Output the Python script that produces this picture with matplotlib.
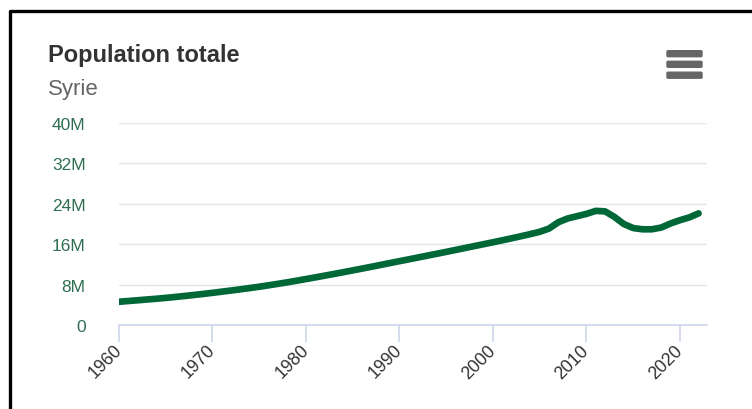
import numpy as np
import matplotlib.pyplot as plt
from matplotlib.lines import Line2D
from matplotlib.patches import FancyBboxPatch
from matplotlib.ticker import FuncFormatter

# données : population totale, Syrie (millions)
years = list(range(1960, 2023))
population_m = [4.60, 4.75, 4.90, 5.05, 5.20, 5.37, 5.55, 5.74, 5.94, 6.15,
                6.37, 6.60, 6.83, 7.07, 7.32, 7.58, 7.86, 8.15, 8.45, 8.77,
                9.10, 9.43, 9.77, 10.11, 10.46, 10.81, 11.17, 11.53, 11.90, 12.27,
                12.64, 13.00, 13.37, 13.74, 14.11, 14.48, 14.86, 15.24, 15.62, 16.00,
                16.38, 16.77, 17.17, 17.58, 18.00, 18.45, 19.10, 20.35, 21.10, 21.55,
                22.00, 22.60, 22.50, 21.40, 20.00, 19.20, 18.95, 18.95, 19.30, 20.10,
                20.75, 21.30, 22.10]
y_ticks = [0, 8, 16, 24, 32, 40]
x_ticks = [1960, 1970, 1980, 1990, 2000, 2010, 2020]
title = "Population totale"
subtitle = "Syrie"

W, H = 752, 410
fig = plt.figure(figsize=(W / 100, H / 100), dpi=100)
plt.rcParams['font.family'] = ['Liberation Sans', 'DejaVu Sans']

ax = fig.add_axes([119 / W, 1 - 326 / H, (707 - 119) / W, (326 - 124) / H])

ax.plot(years, population_m, color='#006837', linewidth=4.8,
        solid_capstyle='round', solid_joinstyle='round', zorder=3)

ax.set_xlim(1960, 2022.9)
ax.set_ylim(0, 40)
ax.set_yticks(y_ticks)
ax.set_xticks(x_ticks)
ax.yaxis.set_major_formatter(FuncFormatter(lambda v, p: '0' if v == 0 else f'{int(v)}M'))

# grille horizontale
ax.grid(axis='y', color='#e6e6e6', linewidth=1)
ax.set_axisbelow(True)
for s in ['top', 'right', 'left']:
    ax.spines[s].set_visible(False)
ax.spines['bottom'].set_color('#ccd6eb')
ax.spines['bottom'].set_linewidth(1.2)

ax.tick_params(axis='y', length=0, pad=24, labelsize=12.5, labelcolor='#2f6e52')
ax.tick_params(axis='x', length=12, width=1.2, color='#ccd6eb', pad=4,
               labelsize=12.8, labelcolor='#333333')
for lab in ax.get_xticklabels():
    lab.set_rotation(45)
    lab.set_ha('right')
    lab.set_va('center')
    lab.set_rotation_mode('anchor')

# titres
fig.text(48 / W, 1 - 62 / H, title, fontsize=17, fontweight='bold', color='#333333')
fig.text(48 / W, 1 - 95 / H, subtitle, fontsize=16, color='#666666')

# icône menu
for yb in [54.7, 65.3, 76.2]:
    fig.patches.append(FancyBboxPatch((667 / W, 1 - (yb + 3) / H), 35 / W, 6 / H,
                                      boxstyle='round,pad=0,rounding_size=0.002',
                                      transform=fig.transFigure, color='#666666'))

# cadre noir
fig.add_artist(Line2D([10 / W, 10 / W, 1], [0, 1 - 12 / H, 1 - 12 / H],
                      color='black', linewidth=2.4, transform=fig.transFigure))

fig.savefig('out.png', dpi=100)
